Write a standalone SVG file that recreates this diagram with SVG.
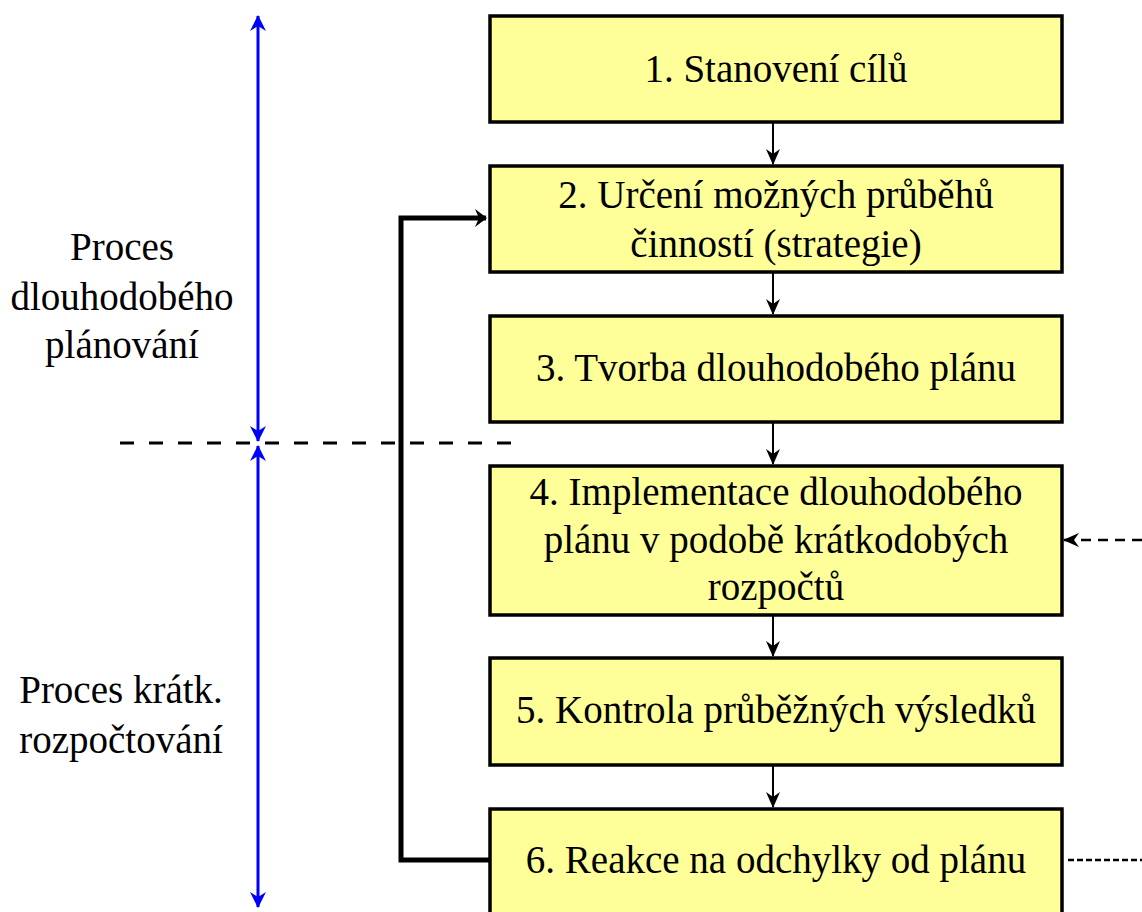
<svg xmlns="http://www.w3.org/2000/svg" width="1142" height="912" viewBox="0 0 1142 912">
<defs>
<style>
.box{fill:#ffff99;stroke:#000;stroke-width:3.5}
text{font-family:"Liberation Serif","Times New Roman",serif;font-size:39px;fill:#000;text-anchor:middle}
.flow{stroke:#000;stroke-width:2;fill:none}
.blue{stroke:#0000ff;stroke-width:3;fill:none}
</style>
<marker id="ahd" viewBox="0 0 16 16" markerWidth="16" markerHeight="16" refX="15" refY="8" orient="auto" markerUnits="userSpaceOnUse">
<path d="M0,1 L16,8 L0,15 L5,8 Z" fill="#000"/>
</marker>
<marker id="ahb" viewBox="0 0 12 20" markerWidth="12" markerHeight="20" refX="11" refY="10" orient="auto" markerUnits="userSpaceOnUse">
<path d="M0,1 L12,10 L0,19 L4,10 Z" fill="#000"/>
</marker>
<marker id="ahblue" viewBox="0 0 16 16" markerWidth="16" markerHeight="16" refX="15" refY="8" orient="auto-start-reverse" markerUnits="userSpaceOnUse">
<path d="M0,0 L16,8 L0,16 L5,8 Z" fill="#0000ff"/>
</marker>
</defs>
<rect width="1142" height="912" fill="#fff"/>
<g id="connectors">
<line class="flow" x1="773" y1="122" x2="773" y2="164" marker-end="url(#ahd)"/>
<line class="flow" x1="773" y1="272" x2="773" y2="314" marker-end="url(#ahd)"/>
<line class="flow" x1="773" y1="422" x2="773" y2="464" marker-end="url(#ahd)"/>
<line class="flow" x1="773" y1="615" x2="773" y2="656" marker-end="url(#ahd)"/>
<line class="flow" x1="773" y1="765" x2="773" y2="807" marker-end="url(#ahd)"/>
<polyline points="489,860 401,860 401,218 486,218" stroke="#000" stroke-width="5" fill="none" marker-end="url(#ahb)"/>
<line x1="1142" y1="540" x2="1064" y2="540" stroke="#000" stroke-width="2.5" stroke-dasharray="10,7" marker-end="url(#ahd)"/>
<line x1="1068" y1="860" x2="1142" y2="860" stroke="#000" stroke-width="2.5" stroke-dasharray="6,3"/>
<line x1="120" y1="443" x2="512" y2="443" stroke="#000" stroke-width="3" stroke-dasharray="14,15"/>
<line class="blue" x1="258" y1="16" x2="258" y2="441" marker-start="url(#ahblue)" marker-end="url(#ahblue)"/>
<line class="blue" x1="258" y1="446" x2="258" y2="907" marker-start="url(#ahblue)" marker-end="url(#ahblue)"/>
</g>
<g id="label-long">
<text x="122" y="260">Proces</text>
<text x="122" y="310">dlouhodobého</text>
<text x="122" y="358">plánování</text>
</g>
<g id="label-short">
<text x="121" y="703">Proces krátk.</text>
<text x="121" y="753">rozpočtování</text>
</g>
<g id="n1"><rect class="box" x="490" y="16" width="572" height="106"/><text x="776" y="82">1. Stanovení cílů</text></g>
<g id="n2"><rect class="box" x="490" y="166" width="572" height="106"/><text x="776" y="208">2. Určení možných průběhů</text><text x="776" y="257">činností (strategie)</text></g>
<g id="n3"><rect class="box" x="490" y="316" width="572" height="106"/><text x="776" y="381">3. Tvorba dlouhodobého plánu</text></g>
<g id="n4"><rect class="box" x="490" y="466" width="572" height="149"/><text x="776" y="505">4. Implementace dlouhodobého</text><text x="776" y="553">plánu v podobě krátkodobých</text><text x="776" y="600">rozpočtů</text></g>
<g id="n5"><rect class="box" x="490" y="658" width="572" height="107"/><text x="776" y="723">5. Kontrola průběžných výsledků</text></g>
<g id="n6"><rect class="box" x="490" y="809" width="572" height="110"/><text x="776" y="873">6. Reakce na odchylky od plánu</text></g>
</svg>
